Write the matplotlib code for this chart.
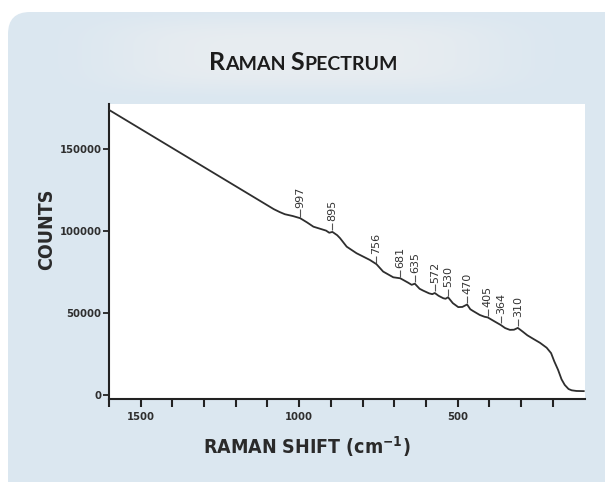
import numpy as np
import matplotlib
matplotlib.use("Agg")
import matplotlib.pyplot as plt
from matplotlib.patches import FancyBboxPatch

# Raman spectrum trace (shift in cm-1, detector counts)
shift = [1600, 1080, 1061, 1045, 1020, 997, 975, 955, 915, 905, 895, 880, 871,
         850, 819, 777, 756, 735, 703, 681, 656, 645, 635, 620, 609, 590, 580,
         572, 560, 545, 538, 530, 515, 498, 485, 470, 460, 451, 430, 415, 405,
         382, 364, 350, 335, 322, 310, 295, 280, 262, 240, 219, 205, 195, 183,
         172, 162, 150, 140, 125, 102]
counts = [174000, 113400, 111600, 110300, 109200, 107900, 105300, 102700, 100300,
          99000, 99500, 97500, 95700, 90500, 86500, 82400, 79800, 75300, 71800,
          71200, 68500, 67200, 67900, 64800, 63700, 62000, 61500, 62200, 60500,
          59000, 58700, 59600, 56000, 53600, 53700, 55200, 52300, 51200, 48800,
          47700, 47300, 44700, 42700, 40800, 39700, 39800, 40900, 38700, 36400,
          34300, 31800, 28800, 25500, 20500, 15300, 9500, 6100, 3600, 2800,
          2400, 2300]

# labelled band positions
peaks = [997, 895, 756, 681, 635, 572, 530, 470, 405, 364, 310]

xticks_all = list(range(200, 1700, 100))
xtick_labels = {1500: "1500", 1000: "1000", 500: "500"}
yticks = [0, 50000, 100000, 150000]

W, H = 605, 482
fig = plt.figure(figsize=(W / 100, H / 100), dpi=100, facecolor="white")

# background panel in pixel coordinates
bg = fig.add_axes([0, 0, 1, 1])
bg.set_xlim(0, W)
bg.set_ylim(H, 0)
bg.axis("off")
panel = FancyBboxPatch((8, 12), 640, 520, boxstyle="round,pad=0,rounding_size=22",
                       fc="#dbe7f0", ec="none")
bg.add_patch(panel)

# lighter band behind the title
ny, nx = 100, 300
yy = np.linspace(0, 1, ny)[:, None]
xx = np.linspace(0, 1, nx)[None, :]
a = np.exp(-((xx - 0.5) / 0.33) ** 4) * np.exp(-((yy - 0.5) / 0.42) ** 4)
band = np.zeros((ny, nx, 4))
band[..., 0], band[..., 1], band[..., 2] = 0.925, 0.937, 0.945
band[..., 3] = a * 0.8
im = bg.imshow(band, extent=(8, W, 96, 12), aspect="auto", zorder=1)
im.set_clip_path(panel)

# title in small caps
r = fig.canvas.get_renderer()
parts = [("R", 18), ("AMAN", 14), (" ", 14), ("S", 18), ("PECTRUM", 14)]
texts, widths = [], []
for s, size in parts:
    t = bg.text(0, 70, s, fontsize=size, family="Lato", fontweight="bold",
                color="#1c1c1c", va="baseline", ha="left", zorder=3)
    texts.append(t)
    bb = t.get_window_extent(renderer=r)
    widths.append(bb.width if s != " " else size * 0.35)
x0 = 303 - sum(widths) / 2
for t, w in zip(texts, widths):
    t.set_x(x0)
    x0 += w

# spectrum axes
ax = fig.add_axes([109 / W, 1 - 398.5 / H, (585 - 109) / W, (398.5 - 104) / H])
ax.set_facecolor("white")
ax.plot(shift, counts, color="#2e2e2e", lw=1.3, solid_joinstyle="round", zorder=3)
ax.set_xlim(1600, 98)
ax.set_ylim(-2200, 177600)

for p in peaks:
    c = np.interp(p, shift[::-1], counts[::-1])
    ax.vlines(p, c + 1000, c + 5300, color="#555555", lw=0.8)
    ax.text(p, c + 6400, str(p), rotation=90, ha="center", va="bottom",
            fontsize=8, color="#333333", family="DejaVu Sans")

for side in ("top", "right"):
    ax.spines[side].set_visible(False)
for side in ("left", "bottom"):
    ax.spines[side].set_linewidth(1.5)
    ax.spines[side].set_color("#222222")

ax.set_xticks(xticks_all)
ax.set_xticklabels([xtick_labels.get(v, "") for v in xticks_all])
ax.set_yticks(yticks)
ax.set_yticklabels([str(v) for v in yticks])
ax.tick_params(axis="x", direction="out", length=6, width=1.5, pad=4,
               color="#222222", labelsize=8, labelcolor="#2e2e2e")
ax.tick_params(axis="y", direction="out", length=4, width=1.3, pad=1.5,
               color="#222222", labelsize=8, labelcolor="#2e2e2e")
for lab in ax.get_xticklabels() + ax.get_yticklabels():
    lab.set_fontweight("bold")
    lab.set_family("DejaVu Sans")
    lab.set_fontstretch("condensed")

plt.rcParams["mathtext.default"] = "regular"
fig.text(47 / W, 1 - 229 / H, "COUNTS", rotation=90, ha="center", va="center",
         fontsize=14, fontweight="bold", family="DejaVu Sans",
         fontstretch="condensed", color="#2a2a2a")
fig.text(307 / W, 1 - 447 / H, r"RAMAN SHIFT (cm$^{-1}$)", ha="center", va="center",
         fontsize=14, fontweight="bold", family="DejaVu Sans",
         fontstretch="condensed", color="#2a2a2a")

fig.savefig("out.png", dpi=100, facecolor="white")
